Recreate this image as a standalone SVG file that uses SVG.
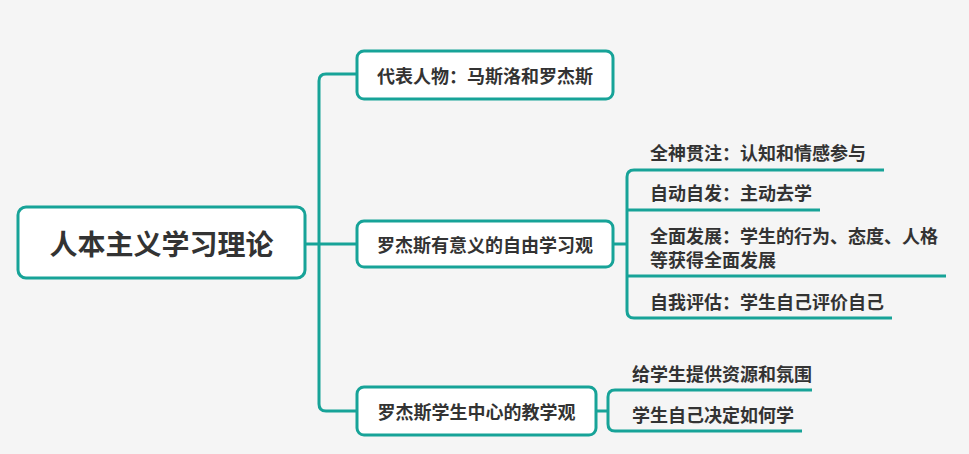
<svg xmlns="http://www.w3.org/2000/svg" width="969" height="454" viewBox="0 0 969 454">
<style>
.bg{fill:#f5f5f5}
.box{fill:#ffffff;stroke:#17a398;stroke-width:3}
.ln{fill:none;stroke:#17a398;stroke-width:3;stroke-linecap:butt}
text{font-family:"Noto Sans CJK SC","Noto Sans",sans-serif;fill:#333333;font-weight:700;dominant-baseline:central}
.root{font-size:28px;text-anchor:middle}
.mid{font-size:18px;text-anchor:middle}
.leaf{font-size:18px}
</style>
<rect class="bg" x="0" y="0" width="969" height="454"/>
<g id="connectors">
  <path class="ln" d="M305,244 H357"/>
  <path class="ln" d="M357,74 H326 Q319,74 319,81 V404 Q319,411 326,411 H357"/>
  <path class="ln" d="M613,244 H627"/>
  <path class="ln" d="M884,170 H634 Q627,170 627,177 V311 Q627,318 634,318 H892"/>
  <path class="ln" d="M627,210 H820"/>
  <path class="ln" d="M627,276 H946"/>
  <path class="ln" d="M596,411 H608"/>
  <path class="ln" d="M812,390 H615 Q608,390 608,397 V424 Q608,431 615,431 H802"/>
</g>
<g id="root">
  <rect class="box" x="18" y="207" width="287" height="71" rx="8"/>
  <text class="root" x="161.5" y="243">人本主义学习理论</text>
</g>
<g id="n1">
  <rect class="box" x="357" y="51" width="256" height="48" rx="7"/>
  <text class="mid" x="485" y="75">代表人物：马斯洛和罗杰斯</text>
</g>
<g id="n2">
  <rect class="box" x="357" y="221" width="256" height="46" rx="7"/>
  <text class="mid" x="485" y="244">罗杰斯有意义的自由学习观</text>
</g>
<g id="n3">
  <rect class="box" x="357" y="387" width="239" height="48" rx="7"/>
  <text class="mid" x="476.5" y="411">罗杰斯学生中心的教学观</text>
</g>
<g id="c1"><text class="leaf" x="650" y="152">全神贯注：认知和情感参与</text></g>
<g id="c2"><text class="leaf" x="650" y="192">自动自发：主动去学</text></g>
<g id="c3"><text class="leaf" x="650" y="235">全面发展：学生的行为、态度、人格</text><text class="leaf" x="650" y="259">等获得全面发展</text></g>
<g id="c4"><text class="leaf" x="650" y="301">自我评估：学生自己评价自己</text></g>
<g id="c5"><text class="leaf" x="632" y="373">给学生提供资源和氛围</text></g>
<g id="c6"><text class="leaf" x="632" y="414">学生自己决定如何学</text></g>
</svg>
